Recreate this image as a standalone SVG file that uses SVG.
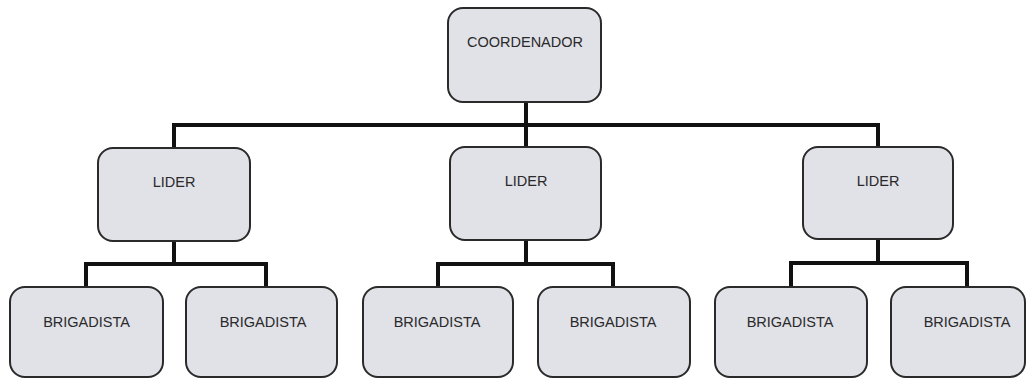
<svg xmlns="http://www.w3.org/2000/svg" width="1033" height="379" viewBox="0 0 1033 379">
<style>
.box{fill:#e1e1e8;stroke:#2a2a2a;stroke-width:2}
.lbl{font-family:"Liberation Sans",Arial,sans-serif;font-size:14.5px;fill:#2a2a2a;text-anchor:middle}
.con{fill:none;stroke:#111;stroke-width:4;stroke-linejoin:miter;stroke-linecap:square}
</style>
<rect width="1033" height="379" fill="#ffffff"/>
<g id="connectors">
<path class="con" d="M526,102 V125"/>
<path class="con" d="M174,148 V125 H878 V147"/>
<path class="con" d="M526,125 V147"/>
<path class="con" d="M174,241 V264"/>
<path class="con" d="M86,287 V264 H266 V287"/>
<path class="con" d="M526,240 V264"/>
<path class="con" d="M438,287 V264 H613 V287"/>
<path class="con" d="M878,239 V263"/>
<path class="con" d="M791,287 V263 H967 V287"/>
</g>
<g id="coordenador"><rect class="box" x="448" y="8" width="153" height="94" rx="15"/><text class="lbl" x="525" y="46.5">COORDENADOR</text></g>
<g id="lider1"><rect class="box" x="98" y="148" width="152" height="93" rx="15"/><text class="lbl" x="174" y="187">LIDER</text></g>
<g id="lider2"><rect class="box" x="450" y="147" width="151" height="93" rx="15"/><text class="lbl" x="526" y="186">LIDER</text></g>
<g id="lider3"><rect class="box" x="803" y="147" width="150" height="92" rx="15"/><text class="lbl" x="878" y="186">LIDER</text></g>
<g id="brigadista1"><rect class="box" x="10" y="287" width="153" height="90" rx="15"/><text class="lbl" x="86.5" y="327">BRIGADISTA</text></g>
<g id="brigadista2"><rect class="box" x="186" y="287" width="151" height="90" rx="15"/><text class="lbl" x="263" y="327">BRIGADISTA</text></g>
<g id="brigadista3"><rect class="box" x="363" y="287" width="150" height="90" rx="15"/><text class="lbl" x="437" y="327">BRIGADISTA</text></g>
<g id="brigadista4"><rect class="box" x="538" y="287" width="152" height="90" rx="15"/><text class="lbl" x="613" y="327">BRIGADISTA</text></g>
<g id="brigadista5"><rect class="box" x="715" y="287" width="152" height="90" rx="15"/><text class="lbl" x="790" y="327">BRIGADISTA</text></g>
<g id="brigadista6"><rect class="box" x="891" y="287" width="134" height="90" rx="15"/><text class="lbl" x="967" y="327">BRIGADISTA</text></g>
</svg>
